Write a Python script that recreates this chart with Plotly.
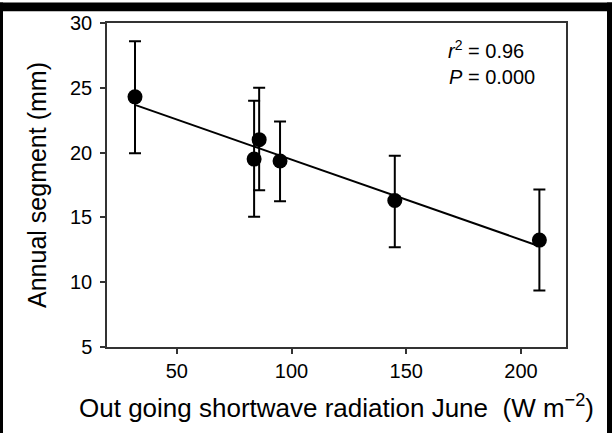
import numpy as np
import plotly.graph_objects as go

# Data
radiation = [31.8, 83.7, 85.9, 95.0, 145.0, 208.0]
segment = [24.3, 19.5, 21.0, 19.35, 16.3, 13.25]
err_upper = [28.6, 24.0, 25.0, 22.4, 19.75, 17.15]
err_lower = [19.95, 15.05, 17.1, 16.25, 12.7, 9.35]

x_ticks = [50, 100, 150, 200]
y_ticks = [5, 10, 15, 20, 25, 30]

plus = [u - v for u, v in zip(err_upper, segment)]
minus = [v - l for v, l in zip(segment, err_lower)]

slope, intercept = np.polyfit(radiation, segment, 1)
fit_x = [min(radiation), max(radiation)]
fit_y = [slope * x + intercept for x in fit_x]

FONT = "Liberation Sans, Arial, sans-serif"

fig = go.Figure()
fig.add_trace(go.Scatter(x=fit_x, y=fit_y, mode="lines",
                         line=dict(color="black", width=2), showlegend=False,
                         hoverinfo="skip"))
fig.add_trace(go.Scatter(
    x=radiation, y=segment, mode="markers",
    marker=dict(color="black", size=15),
    error_y=dict(type="data", symmetric=False, array=plus, arrayminus=minus,
                 color="black", thickness=2, width=6),
    showlegend=False))

L, R, T, B = 107, 46, 16, 86
W, H = 612 - L - R, 433 - T - B


def px_x(p):
    return (p - L) / W


def px_y(p):
    return (T + H - p) / H


# thin black frame of the picture (top, left, right)
for x0, x1, y0, y1 in [(-5, 620, -5, 4), (-5, 3, -5, 440), (607, 620, -5, 440)]:
    fig.add_shape(type="rect", xref="paper", yref="paper",
                  x0=px_x(x0), x1=px_x(x1), y0=px_y(y1), y1=px_y(y0),
                  fillcolor="black", line=dict(width=0), layer="above")

fig.add_annotation(text="<i>r</i><sup>2</sup> = 0.96", xref="paper", yref="paper",
                   x=px_x(446), y=px_y(43), xanchor="left", yanchor="middle",
                   showarrow=False, font=dict(family=FONT, size=20, color="black"))
fig.add_annotation(text="<i>P</i> = 0.000", xref="paper", yref="paper",
                   x=px_x(447), y=px_y(71), xanchor="left", yanchor="middle",
                   showarrow=False, font=dict(family=FONT, size=20, color="black"))

axis_common = dict(showline=True, linecolor="#333333", linewidth=1.5, mirror=True,
                   ticks="outside", ticklen=5, tickwidth=1.5, tickcolor="#333333",
                   showgrid=False, zeroline=False,
                   tickfont=dict(family=FONT, size=20, color="black"))

fig.update_xaxes(range=[19.6, 219.6], tickvals=x_ticks,
                 title=dict(text="Out going shortwave radiation June&nbsp;&nbsp;(W m<sup>\u22122</sup>)",
                            font=dict(family=FONT, size=26, color="black"), standoff=18),
                 **axis_common)
fig.update_yaxes(range=[5, 30], tickvals=y_ticks, ticklabelstandoff=4,
                 title=dict(text="Annual segment (mm)",
                            font=dict(family=FONT, size=25, color="black"), standoff=16),
                 **axis_common)

fig.update_layout(width=612, height=433, margin=dict(l=L, r=R, t=T, b=B),
                  paper_bgcolor="white", plot_bgcolor="white")

fig.write_html("out.html")
